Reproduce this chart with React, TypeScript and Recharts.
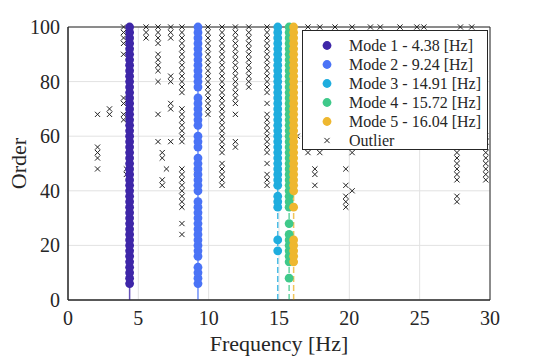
import {
  ScatterChart, Scatter, XAxis, YAxis, CartesianGrid, ReferenceLine, ReferenceArea,
} from "recharts";

const FONT = "'Liberation Serif', 'Times New Roman', serif";
const INK = "#262626";

const modeNames = ["Mode 1", "Mode 2", "Mode 3", "Mode 4", "Mode 5"];
const modeFreqs = [4.38, 9.24, 14.91, 15.72, 16.04];
const modeColors = ["#3e26a8", "#4a73f6", "#1fadde", "#3fc98a", "#eeb72f"];
const modeDashed = [false, false, true, true, true];

const mode1Orders = [6, 8, 10, 12, 14, 16, 18, 20, 22, 24, 26, 28, 30, 32, 34, 36, 38, 40, 42, 44, 46, 48, 50, 52, 54, 56, 58, 60, 62, 64, 66, 68, 70, 72, 74, 76, 78, 80, 82, 84, 86, 88, 90, 92, 94, 96, 98, 100];
const mode2Orders = [6, 8, 10, 12, 16, 18, 20, 22, 24, 26, 28, 30, 32, 34, 36, 40, 42, 44, 46, 48, 50, 52, 56, 58, 60, 64, 66, 68, 70, 72, 74, 78, 80, 82, 84, 86, 88, 90, 92, 94, 96, 98, 100];
const mode3Orders = [18, 22, 34, 36, 38, 42, 44, 46, 48, 50, 52, 54, 56, 58, 60, 62, 64, 66, 68, 70, 72, 74, 76, 78, 80, 82, 84, 86, 88, 90, 92, 94, 96, 98, 100];
const mode4Orders = [8, 14, 16, 18, 20, 22, 24, 28, 34, 36, 38, 40, 42, 44, 46, 48, 50, 52, 54, 56, 58, 60, 62, 64, 66, 68, 70, 72, 74, 76, 78, 80, 82, 84, 86, 88, 90, 92, 94, 96, 98, 100];
const mode5Orders = [14, 16, 18, 20, 22, 34, 40, 42, 44, 46, 48, 50, 52, 54, 56, 58, 60, 62, 64, 66, 68, 70, 72, 74, 76, 78, 80, 82, 84, 86, 88, 90, 92, 94, 96, 98, 100];
const modeOrders = [mode1Orders, mode2Orders, mode3Orders, mode4Orders, mode5Orders];

// outlier columns: [frequency, orders]
const outlierCols: [number, number[]][] = [
  [2.1, [68, 56, 54, 52, 48]],
  [2.95, [70, 68]],
  [3.95, [100, 98, 96, 94, 90, 74, 72, 68, 66]],
  [4.15, [48, 46]],
  [5.55, [100, 98, 96]],
  [6.4, [100, 98, 96, 94, 90, 88, 86, 84, 80, 68, 58]],
  [6.7, [54, 52, 44, 42]],
  [7.0, [48]],
  [7.3, [100, 98, 96, 82, 80, 72, 70, 58]],
  [8.1, [100, 98, 96, 94, 92, 90, 88, 86, 84, 82, 80, 78, 76, 70, 68, 66, 64, 62, 60, 58, 48, 46, 44, 42, 40, 38, 36, 34, 28, 24]],
  [9.15, [46]],
  [9.95, [100, 98, 96, 94, 92, 90, 88, 86, 84, 82, 80, 78, 76, 74, 72, 70, 68]],
  [10.95, [100, 98, 96, 94, 92, 90, 88, 86, 84, 82, 80, 78, 76, 74, 72, 70, 68, 66, 64, 62, 60, 58, 56, 54, 50, 48, 46, 44, 42]],
  [11.9, [100, 98, 96, 94, 92, 90, 88, 86, 84, 82, 80, 78, 76, 74, 72, 68, 58, 56]],
  [12.85, [100, 98, 96, 94, 92, 90, 88, 86, 84, 82, 80, 78]],
  [14.15, [100, 98, 96, 94, 92, 90, 88, 86, 84, 82, 80, 78, 76, 72, 68, 66, 64, 62, 60, 58, 56, 54, 50, 46, 44, 42]],
  [16.3, [60]],
  [17.06, [100, 54]],
  [17.55, [48, 46, 42]],
  [17.9, [100, 54]],
  [18.98, [100]],
  [19.75, [48, 42, 38, 36, 34]],
  [20.2, [100, 98, 54, 40]],
  [21.5, [100]],
  [22.2, [100]],
  [23.6, [100, 98]],
  [24.8, [100]],
  [25.3, [100]],
  [27.65, [54, 52, 50, 48, 46, 44, 38, 36]],
  [27.9, [100]],
  [28.7, [100]],
  [29.7, [60, 58, 56, 54, 52, 50, 48, 46, 44]],
];

const xTicks = [0, 5, 10, 15, 20, 25, 30];
const yTicks = [0, 20, 40, 60, 80, 100];

const outliers = outlierCols.flatMap(([f, os]) => os.map((o) => ({ f, o })));

const XMark = (p: any) => {
  const { cx, cy } = p;
  const s = 2.6;
  return (
    <path
      d={`M${cx - s},${cy - s}L${cx + s},${cy + s}M${cx - s},${cy + s}L${cx + s},${cy - s}`}
      stroke="#222" strokeWidth={1} fill="none"
    />
  );
};

const dotShape = (color: string) => (p: any) => <circle cx={p.cx} cy={p.cy} r={4.4} fill={color} />;

const tickStyle = { fontFamily: FONT, fontSize: 20, fill: INK };

const XTick = (p: any) => (
  <text x={p.x} y={p.y} dy={15} textAnchor="middle" style={tickStyle}>
    {p.payload.value}
  </text>
);

const YTick = (p: any) => (
  <text x={p.x} y={p.y} dy={7} textAnchor="end" style={tickStyle}>
    {p.payload.value}
  </text>
);

export default function App() {
  return (
    <div style={{ position: "absolute", left: 0, top: 0, width: 540, height: 360, background: "#fff", fontFamily: FONT }}>
      <ScatterChart width={540} height={360} margin={{ top: 27, right: 50, bottom: 0, left: 0 }}>
        <CartesianGrid stroke="#e2e2e2" />
        <XAxis
          type="number" dataKey="f" domain={[0, 30]} ticks={xTicks} height={60}
          tickLine={false} axisLine={{ stroke: INK }} tick={XTick} tickMargin={4}
          label={{ value: "Frequency [Hz]", position: "insideBottom", offset: 9, style: { fontSize: 22, fill: INK, fontFamily: FONT } }}
        />
        <YAxis
          type="number" dataKey="o" domain={[0, 100]} ticks={yTicks} width={68}
          tickLine={false} axisLine={{ stroke: INK }} tick={YTick}
          label={{ value: "Order", angle: -90, position: "insideLeft", offset: 18, style: { fontSize: 22, fill: INK, fontFamily: FONT, textAnchor: "middle" } }}
        />
        <ReferenceArea x1={0} x2={30} y1={0} y2={100} fill="none" stroke={INK} strokeWidth={1} />
        {modeFreqs.map((f, i) => (
          <ReferenceLine key={`l${i}`} x={f} stroke={modeColors[i]} strokeOpacity={0.8} strokeWidth={1.5}
            strokeDasharray={modeDashed[i] ? "6 3" : undefined} />
        ))}
        <Scatter data={outliers} shape={XMark} isAnimationActive={false} />
        {modeOrders.map((os, i) => (
          <Scatter key={modeNames[i]} data={os.map((o) => ({ f: modeFreqs[i], o }))}
            shape={dotShape(modeColors[i])} isAnimationActive={false} />
        ))}
      </ScatterChart>
      <div style={{
        position: "absolute", left: 302, top: 30, width: 186, height: 120, boxSizing: "border-box",
        border: `1px solid ${INK}`, background: "#fff", fontFamily: FONT, fontSize: 16, color: INK, paddingTop: 5,
      }}>
        {modeNames.map((n, i) => (
          <div key={n} style={{ height: 19, display: "flex", alignItems: "center" }}>
            <svg width={46} height={19}>
              <circle cx={24} cy={9.5} r={4.4} fill={modeColors[i]} />
            </svg>
            <span>{`${n} - ${modeFreqs[i].toFixed(2)} [Hz]`}</span>
          </div>
        ))}
        <div style={{ height: 19, display: "flex", alignItems: "center" }}>
          <svg width={46} height={19}>
            <path d="M21.4,6.9L26.6,12.1M21.4,12.1L26.6,6.9" stroke="#222" strokeWidth={1} />
          </svg>
          <span>Outlier</span>
        </div>
      </div>
    </div>
  );
}
